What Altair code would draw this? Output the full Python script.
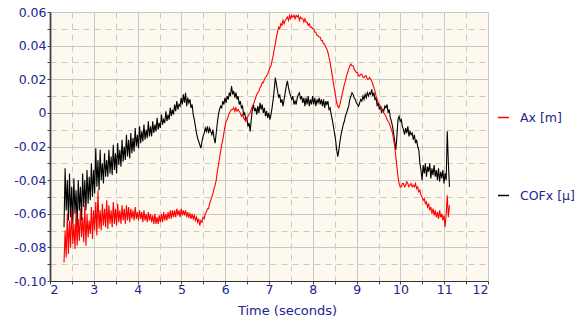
import altair as alt
import pandas as pd

# Sampling grid of the recorded traces (seconds)
T0 = 2.32
DT = 0.025

# Ax [m] trace, one row per half second
AX = [
    -0.089, -0.070, -0.086, -0.060, -0.084, -0.064, -0.080, -0.058, -0.078, -0.066, -0.081, -0.059, -0.079, -0.063, -0.076, -0.057, -0.074, -0.062, -0.077, -0.055,
    -0.079, -0.060, -0.074, -0.064, -0.072, -0.056, -0.075, -0.058, -0.070, -0.053, -0.073, -0.046, -0.069, -0.058, -0.070, -0.054, -0.067, -0.057, -0.068, -0.052,
    -0.069, -0.055, -0.066, -0.058, -0.068, -0.053, -0.066, -0.057, -0.067, -0.054, -0.065, -0.058, -0.066, -0.055, -0.064, -0.057, -0.066, -0.055, -0.064, -0.056,
    -0.065, -0.057, -0.063, -0.058, -0.064, -0.056, -0.063, -0.059, -0.064, -0.058, -0.063, -0.059, -0.065, -0.058, -0.064, -0.060, -0.065, -0.059, -0.064, -0.060,
    -0.065, -0.061, -0.066, -0.060, -0.066, -0.062, -0.066, -0.061, -0.065, -0.060, -0.065, -0.059, -0.064, -0.060, -0.064, -0.059, -0.063, -0.058, -0.063, -0.058,
    -0.062, -0.058, -0.062, -0.057, -0.061, -0.058, -0.062, -0.057, -0.061, -0.058, -0.061, -0.058, -0.062, -0.059, -0.062, -0.060, -0.063, -0.060, -0.063, -0.061,
    -0.064, -0.062, -0.065, -0.063, -0.067, -0.064, -0.065, -0.062, -0.063, -0.060, -0.059, -0.057, -0.057, -0.054, -0.052, -0.050, -0.048, -0.045, -0.043, -0.040,
    -0.035, -0.031, -0.027, -0.023, -0.019, -0.016, -0.012, -0.008, -0.005, -0.004, -0.002, 0.000, 0.001, 0.002, 0.002, 0.003, 0.001, 0.003, 0.001, 0.002,
    0.001, 0.000, -0.002, -0.001, -0.003, -0.004, -0.005, -0.003, -0.002, -0.001, 0.000, 0.002, 0.004, 0.005, 0.007, 0.009, 0.011, 0.012, 0.013, 0.015,
    0.016, 0.018, 0.018, 0.020, 0.021, 0.022, 0.023, 0.025, 0.027, 0.028, 0.031, 0.034, 0.038, 0.041, 0.045, 0.048, 0.051, 0.050, 0.053, 0.052,
    0.055, 0.053, 0.055, 0.056, 0.057, 0.055, 0.058, 0.056, 0.058, 0.057, 0.058, 0.056, 0.058, 0.057, 0.058, 0.055, 0.057, 0.056, 0.056, 0.054,
    0.056, 0.054, 0.054, 0.052, 0.053, 0.051, 0.051, 0.050, 0.050, 0.048, 0.048, 0.046, 0.046, 0.045, 0.045, 0.043, 0.043, 0.041, 0.041, 0.039,
    0.038, 0.036, 0.033, 0.030, 0.026, 0.022, 0.018, 0.014, 0.010, 0.006, 0.004, 0.003, 0.005, 0.008, 0.011, 0.014, 0.017, 0.019, 0.022, 0.024,
    0.026, 0.028, 0.029, 0.028, 0.028, 0.026, 0.025, 0.024, 0.024, 0.022, 0.022, 0.023, 0.023, 0.021, 0.021, 0.022, 0.022, 0.020, 0.020, 0.021,
    0.020, 0.019, 0.017, 0.015, 0.013, 0.010, 0.008, 0.006, 0.005, 0.004, 0.003, 0.001, 0.000, -0.001, -0.002, -0.004, -0.005, -0.006, -0.008, -0.010,
    -0.012, -0.016, -0.020, -0.026, -0.032, -0.038, -0.042, -0.044, -0.044, -0.042, -0.042, -0.044, -0.043, -0.041, -0.042, -0.044, -0.043, -0.042, -0.044, -0.043,
    -0.044, -0.042, -0.045, -0.044, -0.047, -0.046, -0.049, -0.050, -0.052, -0.051, -0.054, -0.053, -0.056, -0.054, -0.058, -0.056, -0.060, -0.057, -0.061, -0.058,
    -0.062, -0.059, -0.063, -0.058, -0.062, -0.060, -0.064, -0.061, -0.068, -0.060, -0.049, -0.062, -0.055,
]

# COFx [μ] trace, same sampling grid
COFX = [
    -0.068, -0.033, -0.058, -0.040, -0.064, -0.036, -0.062, -0.044, -0.066, -0.039, -0.060, -0.046, -0.068, -0.040, -0.058, -0.044, -0.064, -0.036, -0.056, -0.040,
    -0.058, -0.034, -0.054, -0.038, -0.052, -0.030, -0.050, -0.034, -0.048, -0.021, -0.044, -0.028, -0.046, -0.022, -0.040, -0.030, -0.042, -0.024, -0.038, -0.028,
    -0.038, -0.022, -0.036, -0.026, -0.037, -0.019, -0.034, -0.024, -0.036, -0.018, -0.031, -0.022, -0.032, -0.016, -0.029, -0.020, -0.028, -0.013, -0.026, -0.016,
    -0.027, -0.012, -0.024, -0.015, -0.023, -0.009, -0.020, -0.013, -0.021, -0.008, -0.018, -0.011, -0.017, -0.007, -0.016, -0.010, -0.015, -0.005, -0.014, -0.008,
    -0.014, -0.005, -0.012, -0.007, -0.011, -0.003, -0.010, -0.006, -0.009, -0.001, -0.007, -0.004, -0.006, 0.001, -0.005, -0.001, -0.004, 0.003, -0.002, 0.002,
    -0.001, 0.005, 0.001, 0.007, 0.002, 0.005, 0.004, 0.009, 0.005, 0.011, 0.006, 0.012, 0.004, 0.009, 0.006, 0.008, 0.003, 0.005, -0.001, -0.004,
    -0.008, -0.012, -0.015, -0.017, -0.019, -0.021, -0.017, -0.014, -0.012, -0.009, -0.011, -0.008, -0.012, -0.009, -0.011, -0.013, -0.010, -0.015, -0.018, -0.012,
    -0.006, -0.001, 0.002, 0.004, 0.003, 0.007, 0.005, 0.009, 0.006, 0.010, 0.008, 0.012, 0.010, 0.016, 0.011, 0.013, 0.009, 0.012, 0.008, 0.010,
    0.005, 0.007, 0.003, 0.004, -0.001, 0.000, -0.004, -0.003, -0.008, -0.006, -0.011, -0.004, 0.002, 0.005, 0.001, 0.003, -0.001, 0.004, 0.000, 0.006,
    0.002, 0.005, 0.000, 0.003, -0.002, 0.001, -0.003, 0.000, -0.004, -0.001, 0.003, 0.008, 0.014, 0.021, 0.017, 0.013, 0.009, 0.011, 0.006, 0.008,
    0.004, 0.008, 0.012, 0.016, 0.019, 0.015, 0.012, 0.010, 0.008, 0.010, 0.005, 0.007, 0.005, 0.009, 0.011, 0.012, 0.008, 0.010, 0.006, 0.009,
    0.004, 0.009, 0.005, 0.010, 0.004, 0.008, 0.005, 0.010, 0.005, 0.009, 0.004, 0.008, 0.006, 0.009, 0.005, 0.008, 0.004, 0.008, 0.003, 0.007,
    0.005, 0.007, 0.002, 0.003, -0.001, -0.004, -0.008, -0.012, -0.016, -0.022, -0.026, -0.022, -0.017, -0.013, -0.010, -0.007, -0.005, -0.002, 0.000, 0.002,
    0.004, 0.008, 0.010, 0.012, 0.011, 0.009, 0.008, 0.006, 0.005, 0.004, 0.006, 0.008, 0.007, 0.010, 0.008, 0.011, 0.009, 0.012, 0.010, 0.012,
    0.011, 0.014, 0.010, 0.012, 0.008, 0.009, 0.004, 0.006, 0.002, 0.004, 0.000, 0.002, 0.001, 0.004, 0.003, 0.005, 0.000, 0.002, -0.003, -0.005,
    -0.008, -0.012, -0.017, -0.022, -0.014, -0.004, -0.002, -0.005, -0.004, -0.008, -0.010, -0.013, -0.009, -0.012, -0.008, -0.014, -0.011, -0.013, -0.012, -0.016,
    -0.013, -0.018, -0.016, -0.020, -0.022, -0.030, -0.034, -0.040, -0.031, -0.036, -0.030, -0.038, -0.032, -0.035, -0.030, -0.039, -0.033, -0.037, -0.031, -0.038,
    -0.034, -0.040, -0.033, -0.041, -0.035, -0.039, -0.034, -0.042, -0.036, -0.040, -0.011, -0.030, -0.044,
]

SERIES = ["Ax [m]", "COFx [μ]"]
COLORS = ["#ff0000", "#000000"]

X_TICKS = [2, 2.5, 3, 3.5, 4, 4.5, 5, 5.5, 6, 6.5, 7, 7.5, 8, 8.5, 9, 9.5,
           10, 10.5, 11, 11.5, 12]
Y_TICKS = [-0.1, -0.09, -0.08, -0.07, -0.06, -0.05, -0.04, -0.03, -0.02, -0.01,
           0, 0.01, 0.02, 0.03, 0.04, 0.05, 0.06]

NAVY = "#23238e"
FONT = "DejaVu Sans"
GRID = "#c8c8c8"


def frame(name, values):
    return pd.DataFrame({
        "t": [round(T0 + DT * i, 4) for i in range(len(values))],
        "v": values,
        "series": name,
    })


color = alt.Color(
    "series:N",
    scale=alt.Scale(domain=SERIES, range=COLORS),
    legend=alt.Legend(
        orient="none", legendX=447, legendY=99, title=None,
        symbolType="stroke", symbolSize=121, symbolStrokeWidth=1.5,
        labelFont=FONT, labelFontSize=12.5, labelColor=NAVY,
        labelOffset=10, rowPadding=65, padding=0,
    ),
)

x = alt.X(
    "t:Q",
    scale=alt.Scale(domain=[2, 12], nice=False, zero=False),
    axis=alt.Axis(
        values=X_TICKS,
        labelExpr="datum.value % 1 == 0 ? format(datum.value, 'd') : ''",
        title="Time (seconds)",
        grid=True, gridColor=GRID, gridWidth=1,
        gridDash={"condition": {"test": "datum.value % 1 != 0", "value": [6, 5]}, "value": []},
        tickSize=3, tickColor="#444444", domainColor="#333333", domainWidth=1.2,
        labelFont=FONT, labelFontSize=12.5, labelColor=NAVY, labelPadding=-1,
        titleFont=FONT, titleFontSize=13, titleFontWeight="normal",
        titleColor=NAVY, titlePadding=9, titleX=237, titleAnchor="middle",
    ),
)

y = alt.Y(
    "v:Q",
    scale=alt.Scale(domain=[-0.1, 0.06], nice=False, zero=False),
    axis=alt.Axis(
        values=Y_TICKS,
        labelExpr=(
            "abs(round(datum.value * 100)) % 2 == 1 ? '' : "
            "(datum.value == 0 ? '0' : (datum.value < 0 ? '-' : '') + format(abs(datum.value), '.2f'))"
        ),
        title=None,
        grid=True, gridColor=GRID, gridWidth=1,
        gridDash={"condition": {"test": "abs(round(datum.value * 100)) % 2 == 1", "value": [6, 5]}, "value": []},
        tickSize=3, tickColor="#444444", domainColor="#444444", domainWidth=1.8,
        labelFont=FONT, labelFontSize=12.5, labelColor=NAVY, labelPadding=1,
    ),
)

cof = alt.Chart(frame(SERIES[1], COFX)).mark_line(strokeWidth=1.1).encode(x=x, y=y, color=color)
ax = alt.Chart(frame(SERIES[0], AX)).mark_line(strokeWidth=1.1).encode(x=x, y=y, color=color)

chart = (
    alt.layer(cof, ax)
    .properties(
        width=438, height=269,
        autosize=alt.AutoSizeParams(type="none"),
        padding={"left": 50, "top": 12, "right": 96, "bottom": 41},
        background="white",
    )
    .configure_view(fill="#fdf9ef", stroke=None)
)

chart.save("out.html", embed_options={"renderer": "svg", "actions": False})
